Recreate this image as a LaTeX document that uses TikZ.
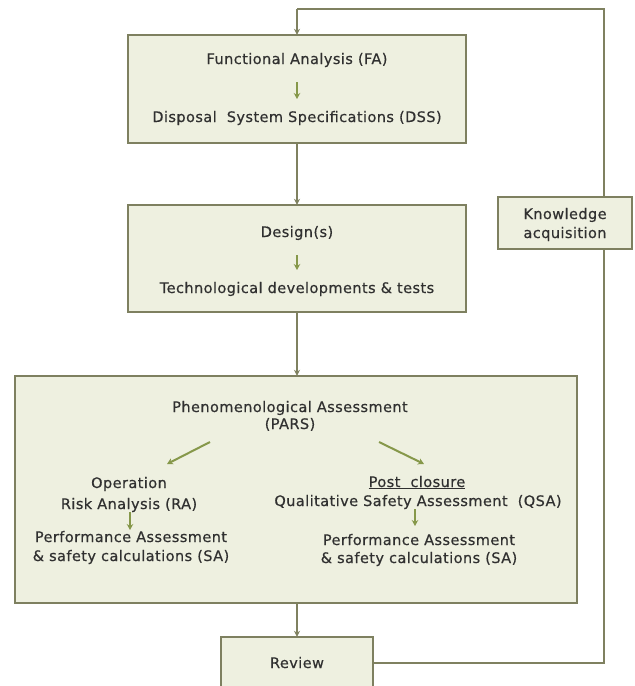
\documentclass[tikz,border=0pt]{standalone}
\usepackage{fontspec}
\setmainfont[LetterSpace=3,FakeBold=0.5]{DejaVu Sans}
\usetikzlibrary{arrows.meta}
\definecolor{boxfill}{HTML}{EEF0E0}
\definecolor{boxline}{HTML}{7E8060}
\definecolor{linkline}{HTML}{7F8160}
\definecolor{innerarrow}{HTML}{86984A}
\definecolor{txt}{HTML}{303030}
\begin{document}
\begin{tikzpicture}[x=1pt,y=-1pt,
  every node/.style={text=txt,font=\fontsize{14.5}{17}\selectfont},
  stage/.style={draw=boxline,fill=boxfill,line width=2.6pt},
  link/.style={draw=linkline,line width=2.4pt,-{Stealth[length=6pt,width=6pt]}},
  plainlink/.style={draw=linkline,line width=2.4pt},
  inner/.style={draw=innerarrow,line width=2pt,-{Stealth[length=6pt,width=6.5pt]}},
  lbl/.style={inner sep=0pt,anchor=base}]
\useasboundingbox (0,0) rectangle (635,686);
\clip (0,0) rectangle (635,686);

% stage boxes (drawn as filled frames, named by overlaid empty nodes)
\path[stage] (128,35) rectangle (466,143);
\node (fa) at (297,89) [minimum width=338pt,minimum height=108pt] {};
\path[stage] (128,205) rectangle (466,312);
\node (des) at (297,258.5) [minimum width=338pt,minimum height=107pt] {};
\path[stage] (15,376) rectangle (577,603);
\node (pars) at (297,489.5) [minimum width=562pt,minimum height=227pt] {};
\path[stage] (221,637) rectangle (373,720);
\node (rev) at (297,661) [minimum width=152pt,minimum height=48pt] {};

% feedback loop, running behind the knowledge box
\coordinate (rc) at (604,663);
\coordinate (tr) at (604,9);
\coordinate (tl) at (297,9);
\draw[plainlink] (rev.east |- rc) -- (rc) -- (tr) -- (tl);
\draw[link] (tl) -- (fa.north);

\node[draw=boxline,fill=boxfill,line width=2.6pt,minimum width=134pt,minimum height=52pt,inner sep=0pt] (ka) at (565,223) {};
\node[lbl] at (565,219) {Knowledge};
\node[lbl] at (565,238) {acquisition};

% flow between stages
\draw[link] (fa.south) -- (des.north);
\draw[link] (des.south) -- (pars.north);
\draw[link] (pars.south) -- (rev.north);

% texts of the first two stages
\node[lbl] (fat) at (297,64) {Functional Analysis (FA)};
\node[lbl] (dss) at (297,122) {Disposal\ \ System Specifications (DSS)};
\draw[inner] (297,82) -- (297,99);
\node[lbl] (dst) at (297,237) {Design(s)};
\node[lbl] (tdt) at (297,293) {Technological developments \& tests};
\draw[inner] (297,255) -- (297,270);

% assessment stage
\node[lbl] (pa) at (290,412) {Phenomenological Assessment};
\node[lbl] at (290,429) {(PARS)};
\coordinate (la) at (210,442);
\coordinate (lb) at (167,464);
\coordinate (ra) at (379,442);
\coordinate (rb) at (424,464);
\draw[inner] (la) -- (lb);
\draw[inner] (ra) -- (rb);

\node[lbl] (op) at (129,488) {Operation};
\node[lbl] (rsk) at (129,509) {Risk Analysis (RA)};
\draw[inner] (130,512) -- (130,530);
\node[lbl] (pl) at (131,542) {Performance Assessment};
\node[lbl] at (131,561) {\& safety calculations (SA)};

\node[lbl] (pc) at (417,487) {\underline{Post\ \ closure}};
\node[lbl] (qsa) at (418,506) {Qualitative Safety Assessment\ \ (QSA)};
\draw[inner] (415,509) -- (415,526);
\node[lbl] (pr) at (419,545) {Performance Assessment};
\node[lbl] at (419,563) {\& safety calculations (SA)};

\node[lbl] at (297,668) {Review};
\end{tikzpicture}
\end{document}
